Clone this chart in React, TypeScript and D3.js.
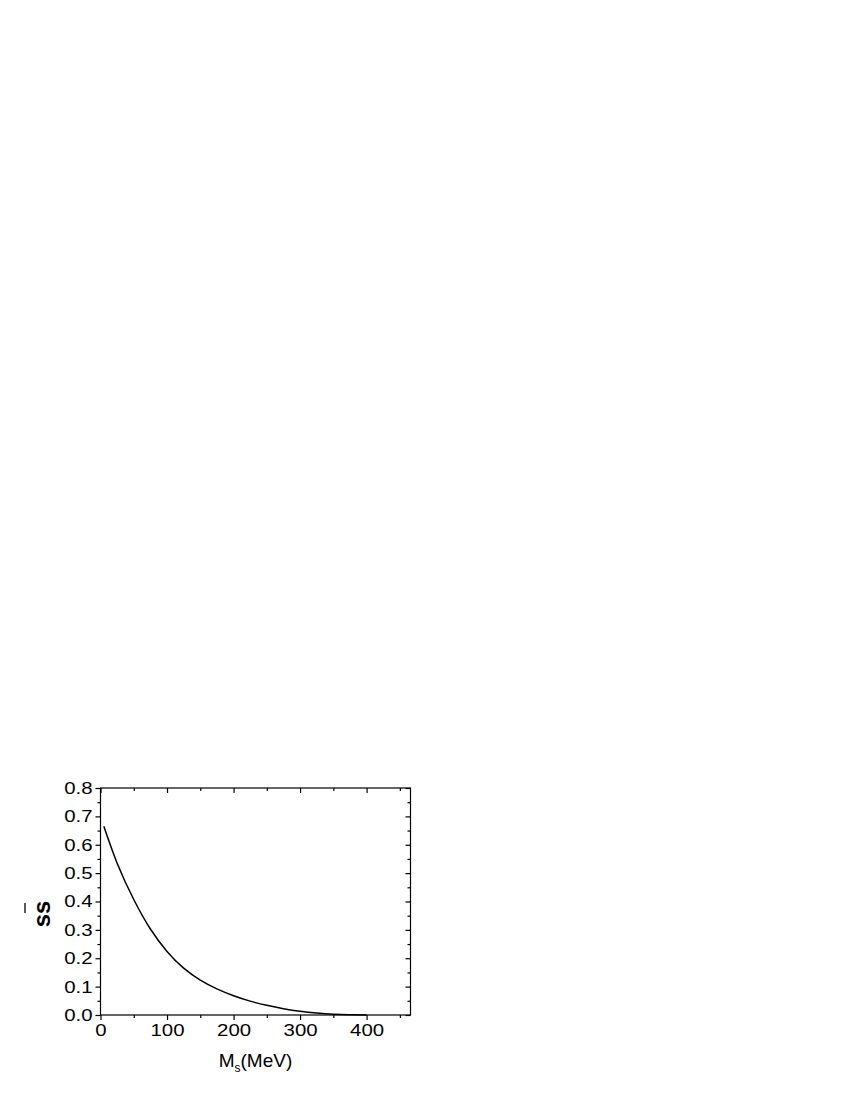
import { useEffect, useRef } from "react";
import * as d3 from "d3";

// curve: M_s (MeV) vs ss̄
const massMeV = [5, 25, 50, 75, 100, 125, 150, 175, 200, 225, 250, 275, 300, 325, 350, 375, 400];
const ssbar = [0.665, 0.535, 0.407, 0.303, 0.224, 0.165, 0.123, 0.092, 0.068, 0.049, 0.034, 0.022, 0.013, 0.007, 0.003, 0.001, 0.0];

const xMajor = [0, 100, 200, 300, 400];
const xMinor = [50, 150, 250, 350, 450];
const yMajor = [0, 0.1, 0.2, 0.3, 0.4, 0.5, 0.6, 0.7, 0.8];
const yMinor = [0.05, 0.15, 0.25, 0.35, 0.45, 0.55, 0.65, 0.75];

const xTitle = "M";
const xTitleSub = "s";
const xTitleRest = "(MeV)";
const yTitle = "ss";

const W = 850;
const H = 1100;
const margin = { left: 100.5, top: 788, right: 439.5, bottom: 85 };
const FONT = "'Liberation Sans', Arial, sans-serif";
const STRETCH = 1.2;

export default function App() {
  const svgRef = useRef<SVGSVGElement>(null);

  useEffect(() => {
    const svg = d3.select(svgRef.current);
    svg.selectAll("*").remove();

    const bw = W - margin.left - margin.right;
    const bh = H - margin.top - margin.bottom;

    const x = d3.scaleLinear().domain([0, 466]).range([0, bw]);
    const y = d3.scaleLinear().domain([0, 0.8]).range([bh, 0]);

    const g = svg
      .append("g")
      .attr("transform", `translate(${margin.left},${margin.top})`);

    const styleAxis = (sel: any, labels: boolean) => {
      sel.select(".domain").remove();
      sel.selectAll("line").attr("stroke", "#000").attr("stroke-width", 1.2);
      if (labels) {
        sel
          .selectAll("text")
          .attr("font-family", FONT)
          .attr("font-size", 17)
          .attr("fill", "#000");
      }
    };

    // bottom axis (ticks outward)
    g.append("g")
      .attr("transform", `translate(0,${bh})`)
      .call(d3.axisBottom(x).tickValues(xMajor).tickSize(5).tickPadding(4).tickFormat(d3.format("d")))
      .call((s) => styleAxis(s, true))
      .selectAll("text")
      .attr("transform", `scale(${STRETCH},1)`);
    g.append("g")
      .attr("transform", `translate(0,${bh})`)
      .call(d3.axisBottom(x).tickValues(xMinor).tickSize(3).tickFormat(() => ""))
      .call((s) => styleAxis(s, false));

    // left axis (ticks outward)
    g.append("g")
      .call(d3.axisLeft(y).tickValues(yMajor).tickSize(5).tickPadding(3).tickFormat(d3.format(".1f")))
      .call((s) => styleAxis(s, true))
      .selectAll("text")
      .attr("x", -8 / STRETCH)
      .attr("transform", `scale(${STRETCH},1)`);
    g.append("g")
      .call(d3.axisLeft(y).tickValues(yMinor).tickSize(3).tickFormat(() => ""))
      .call((s) => styleAxis(s, false));

    // top and right mirror axes (ticks inward)
    g.append("g")
      .call(d3.axisTop(x).tickValues(xMajor).tickSize(-5).tickFormat(() => ""))
      .call((s) => styleAxis(s, false));
    g.append("g")
      .call(d3.axisTop(x).tickValues(xMinor).tickSize(-3).tickFormat(() => ""))
      .call((s) => styleAxis(s, false));
    g.append("g")
      .attr("transform", `translate(${bw},0)`)
      .call(d3.axisRight(y).tickValues(yMajor).tickSize(-5).tickFormat(() => ""))
      .call((s) => styleAxis(s, false));
    g.append("g")
      .attr("transform", `translate(${bw},0)`)
      .call(d3.axisRight(y).tickValues(yMinor).tickSize(-3).tickFormat(() => ""))
      .call((s) => styleAxis(s, false));

    // frame
    g.append("rect")
      .attr("width", bw)
      .attr("height", bh)
      .attr("fill", "none")
      .attr("stroke", "#000")
      .attr("stroke-width", 1.2);

    // curve
    const line = d3
      .line<number>()
      .x((_, i) => x(massMeV[i]))
      .y((d) => y(Math.max(d, 0)))
      .curve(d3.curveNatural);
    g.append("path")
      .datum(ssbar)
      .attr("fill", "none")
      .attr("stroke", "#000")
      .attr("stroke-width", 1.5)
      .attr("d", line);

    // x title
    const xt = g
      .append("text")
      .attr("x", bw / 2)
      .attr("y", bh + 52)
      .attr("text-anchor", "middle")
      .attr("font-family", FONT)
      .attr("font-size", 19)
      .attr("fill", "#000");
    xt.append("tspan").text(xTitle);
    xt.append("tspan").attr("font-size", 12).attr("dy", 5).text(xTitleSub);
    xt.append("tspan").attr("dy", -5).text(xTitleRest);

    // y title: bold "ss" with a bar over the second s
    const yt = svg
      .append("g")
      .attr("transform", `translate(41.5,${margin.top + 126}) rotate(-90)`);
    yt.append("text")
      .attr("x", 0)
      .attr("y", 8.5)
      .attr("text-anchor", "middle")
      .attr("font-family", FONT)
      .attr("font-weight", "bold")
      .attr("font-size", 24)
      .attr("fill", "#000")
      .text(yTitle);
    yt.append("line")
      .attr("x1", 1)
      .attr("x2", 11)
      .attr("y1", -16.5)
      .attr("y2", -16.5)
      .attr("stroke", "#000")
      .attr("stroke-width", 1.3);
  }, []);

  return (
    <div style={{ position: "absolute", left: 0, top: 0 }}>
      <svg ref={svgRef} width={W} height={H} style={{ display: "block" }} />
    </div>
  );
}
